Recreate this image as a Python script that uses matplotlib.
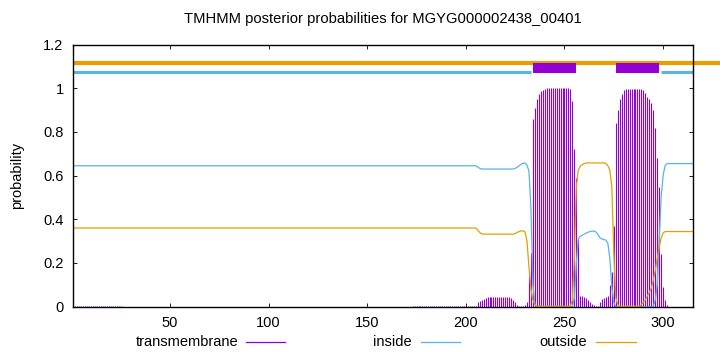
import matplotlib
matplotlib.use("Agg")
import matplotlib.pyplot as plt
from matplotlib.lines import Line2D
from matplotlib.patches import Rectangle
import numpy as np

plt.rcParams['font.family'] = ['Liberation Sans', 'DejaVu Sans']

title = "TMHMM posterior probabilities for MGYG000002438_00401"
seq_len = 315
xticks = [50, 100, 150, 200, 250, 300]
yticks = [0, 0.2, 0.4, 0.6, 0.8, 1.0, 1.2]
ytick_labels = ["0", "0.2", "0.4", "0.6", "0.8", "1", "1.2"]
legend_labels = ["transmembrane", "inside", "outside"]

# topology (residue ranges)
inside_segments = [(1, 233), (299, 315)]
tm_segments = [(234, 256), (276, 298)]
outside_segments = [(1, 315)]

# posterior probabilities per residue 1..315
inside = ([0.645] * 205
          + [0.640, 0.633, 0.630]
          + [0.630] * 16
          + [0.633, 0.638, 0.645, 0.652, 0.656, 0.658, 0.648, 0.62, 0.45, 0.10, 0.01]
          + [0.0] * 19
          + [0.04, 0.2, 0.31, 0.322, 0.327, 0.332, 0.337, 0.341, 0.344, 0.346, 0.346,
             0.342, 0.33, 0.315, 0.31, 0.307, 0.305, 0.29, 0.22, 0.09, 0.02]
          + [0.0] * 20
          + [0.03, 0.10, 0.30, 0.50, 0.60, 0.645]
          + [0.655] * 14)

outside = ([0.36] * 205
           + [0.352, 0.340, 0.334]
           + [0.332] * 16
           + [0.335, 0.34, 0.344, 0.347, 0.347, 0.343, 0.30, 0.18, 0.08, 0.03, 0.01]
           + [0.002] * 18
           + [0.03, 0.22, 0.55, 0.625, 0.643, 0.650, 0.655]
           + [0.658] * 10
           + [0.655, 0.645, 0.625, 0.55, 0.25, 0.04, 0.01]
           + [0.002] * 11
           + [0.01, 0.02, 0.03, 0.05, 0.065, 0.085, 0.12, 0.165, 0.22, 0.27, 0.315, 0.337]
           + [0.344] * 15)

transmembrane = ([0.003] * 25
                 + [0.0] * 147
                 + [0.002] * 33
                 + [0.02, 0.025, 0.03, 0.035, 0.04, 0.043]
                 + [0.045] * 11
                 + [0.04, 0.03, 0.02, 0.01, 0.005, 0.003, 0.003, 0.01, 0.02, 0.145,
                    0.245, 0.86, 0.91, 0.95, 0.975, 0.985, 0.99, 0.995]
                 + [0.999] * 12
                 + [0.995, 0.94, 0.72, 0.59, 0.31, 0.05, 0.048, 0.045, 0.04, 0.03,
                    0.02, 0.012, 0.008, 0.005, 0.004, 0.02, 0.035, 0.04, 0.045, 0.05,
                    0.1, 0.16, 0.37, 0.84, 0.9, 0.95, 0.975, 0.99, 0.995]
                 + [0.998] * 8
                 + [0.99, 0.98, 0.96, 0.95, 0.93, 0.90, 0.82, 0.68, 0.55, 0.24, 0.09,
                    0.03, 0.01]
                 + [0.0] * 13)

C_TM = "#9400d3"
C_IN = "#56b4e9"
C_OUT = "#e69f00"

W, H = 720, 352
fig = plt.figure(figsize=(W / 100, H / 100), dpi=100)
L, R, B, T = 73.3, 692.7, 306.7, 44.5
ax = fig.add_axes([L / W, 1 - B / H, (R - L) / W, (B - T) / H])

pos = np.arange(1, seq_len + 1)
ax.vlines(pos, 0, transmembrane, color=C_TM, lw=0.8, zorder=2)
ax.plot(pos, inside, color=C_IN, lw=0.9, zorder=3)
ax.plot(pos, outside, color=C_OUT, lw=0.9, zorder=4)

# topology bar
ax.axhline(1.115, xmin=0, xmax=(W - L) / (R - L), color=C_OUT, lw=3.0,
           clip_on=False, zorder=5, solid_capstyle='butt')
for s, e in inside_segments:
    ax.plot([s, e], [1.075, 1.075], color=C_IN, lw=2.2, zorder=5,
            solid_capstyle='butt', clip_on=False)
for s, e in tm_segments:
    ax.add_patch(Rectangle((s, 1.071), e - s, 0.046, facecolor=C_TM,
                           edgecolor='none', zorder=6, clip_on=False))

ax.set_xlim(1, seq_len)
ax.set_ylim(0, 1.2)
ax.set_xticks(xticks)
ax.set_yticks(yticks)
ax.set_yticklabels(ytick_labels)
ax.tick_params(direction='in', length=3, width=0.6, top=True, right=True,
               labelsize=10.5, pad=7, colors='black')
for sp in ax.spines.values():
    sp.set_linewidth(1.0)
    sp.set_zorder(10)

fig.text(383 / W, 1 - 19.5 / H, title, ha='center', va='center', fontsize=10.6)
fig.text(17 / W, 1 - 175.6 / H, "probability", ha='center', va='center',
         rotation=90, fontsize=10.5)

# legend
leg_colors = [C_TM, C_IN, C_OUT]
leg_text_right = [238, 412, 587]
leg_line = [(246, 285), (421, 460), (596, 636)]
ly = 1 - 342 / H
for lab, c, tr, (l0, l1) in zip(legend_labels, leg_colors, leg_text_right, leg_line):
    fig.text(tr / W, ly, lab, ha='right', va='center', fontsize=10.5)
    fig.add_artist(Line2D([l0 / W, l1 / W], [ly, ly], color=c, lw=0.9,
                          transform=fig.transFigure))

fig.savefig("out.png", dpi=100)
